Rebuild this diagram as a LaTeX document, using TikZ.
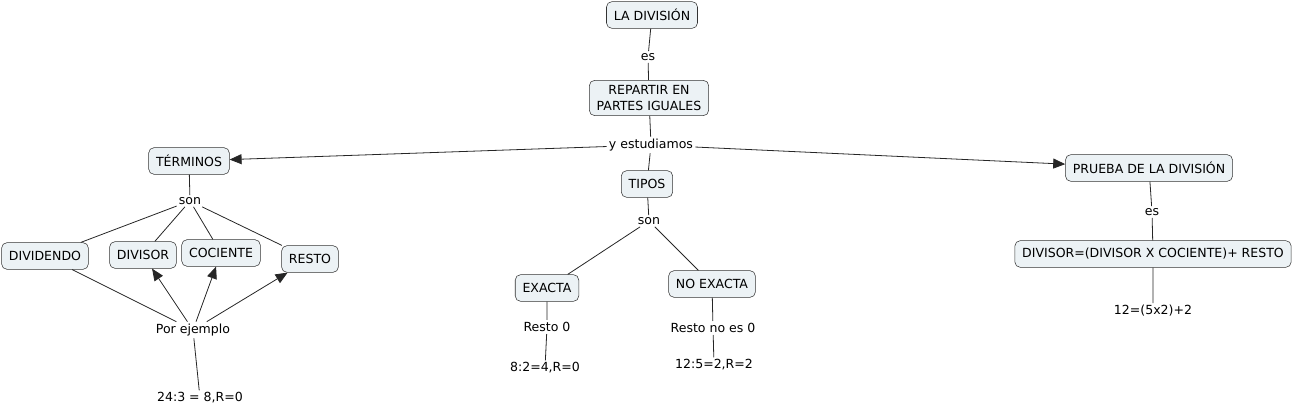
\documentclass[tikz,border=0pt]{standalone}
\usepackage{fontspec}
\setmainfont{DejaVu Sans}
\usepackage{tikz}
\usetikzlibrary{
	arrows.meta,
	positioning
}
\tikzset{
	concepto/.style={draw=black!80, fill={rgb,255:red,236;green,242;blue,245},
		rounded corners=4pt, inner xsep=5.5pt, inner ysep=4pt, minimum height=20pt,
		align=center, font=\fontsize{9.4}{11.5}\selectfont},
	enlace/.style={inner sep=1.5pt, font=\fontsize{9.4}{11.5}\selectfont},
	linea/.style={draw=black!85, line width=0.6pt},
	flecha/.style={linea, -{Triangle[length=9pt,width=7.5pt]}}
}

\begin{document}
\begin{tikzpicture}[x=0.75pt, y=-0.75pt]
		\useasboundingbox (0,0) rectangle (1294,416);
		% conceptos
		\node[concepto] (division) at (652,15) {LA DIVISIÓN};
		\node[concepto] (repartir) at (649,98) {REPARTIR EN\\PARTES IGUALES};
		\node[concepto] (tipos) at (647,184) {TIPOS};
		\node[concepto] (exacta) at (547,288) {EXACTA};
		\node[concepto] (noexacta) at (712,284) {NO EXACTA};
		\node[concepto] (terminos) at (189,161) {TÉRMINOS};
		\node[concepto] (dividendo) at (45,256) {DIVIDENDO};
		\node[concepto] (divisor) at (143,255) {DIVISOR};
		\node[concepto] (cociente) at (221,253) {COCIENTE};
		\node[concepto] (resto) at (310,259) {RESTO};
		\node[concepto] (prueba) at (1149,168) {PRUEBA DE LA DIVISIÓN};
		\node[concepto] (formula) at (1153,254) {DIVISOR=(DIVISOR X COCIENTE)+ RESTO};
		% enlaces
		\node[enlace] (es) at (648,57) {es};
		\node[enlace] (estudiamos) at (651,145) {y estudiamos};
		\node[enlace] (sontipos) at (649,221) {son};
		\node[enlace] (resto0) at (547,327) {Resto 0};
		\node[enlace] (ejexacta) at (545,368) {8:2=4,R=0};
		\node[enlace] (restono) at (713,328) {Resto no es 0};
		\node[enlace] (ejnoexacta) at (714,365) {12:5=2,R=2};
		\node[enlace] (sonterm) at (190,201) {son};
		\node[enlace] (ejemplo) at (193,330) {Por ejemplo};
		\node[enlace] (ejterm) at (200,398) {24:3 = 8,R=0};
		\node[enlace] (esprueba) at (1152,212) {es};
		\node[enlace] (ejprueba) at (1153,311) {12=(5x2)+2};
		% conexiones
		\draw[linea] (division) -- (es) -- (repartir);
		\draw[linea] (repartir) -- (estudiamos) -- (tipos);
		\draw[flecha] (estudiamos) -- (terminos);
		\draw[flecha] (estudiamos) -- (prueba);
		\draw[linea] (tipos) -- (sontipos);
		\draw[linea] (sontipos) -- (exacta);
		\draw[linea] (sontipos) -- (noexacta);
		\draw[linea] (exacta) -- (resto0) -- (ejexacta);
		\draw[linea] (noexacta) -- (restono) -- (ejnoexacta);
		\draw[linea] (terminos) -- (sonterm);
		\foreach \t in {dividendo, divisor, cociente, resto}
			\draw[linea] (sonterm) -- (\t);
		\draw[linea] (dividendo) -- (ejemplo);
		\foreach \t in {divisor, cociente, resto}
			\draw[flecha] (ejemplo) -- (\t);
		\draw[linea] (ejemplo) -- (ejterm);
		\draw[linea] (prueba) -- (esprueba) -- (formula) -- (ejprueba);
	\end{tikzpicture}
\end{document}
